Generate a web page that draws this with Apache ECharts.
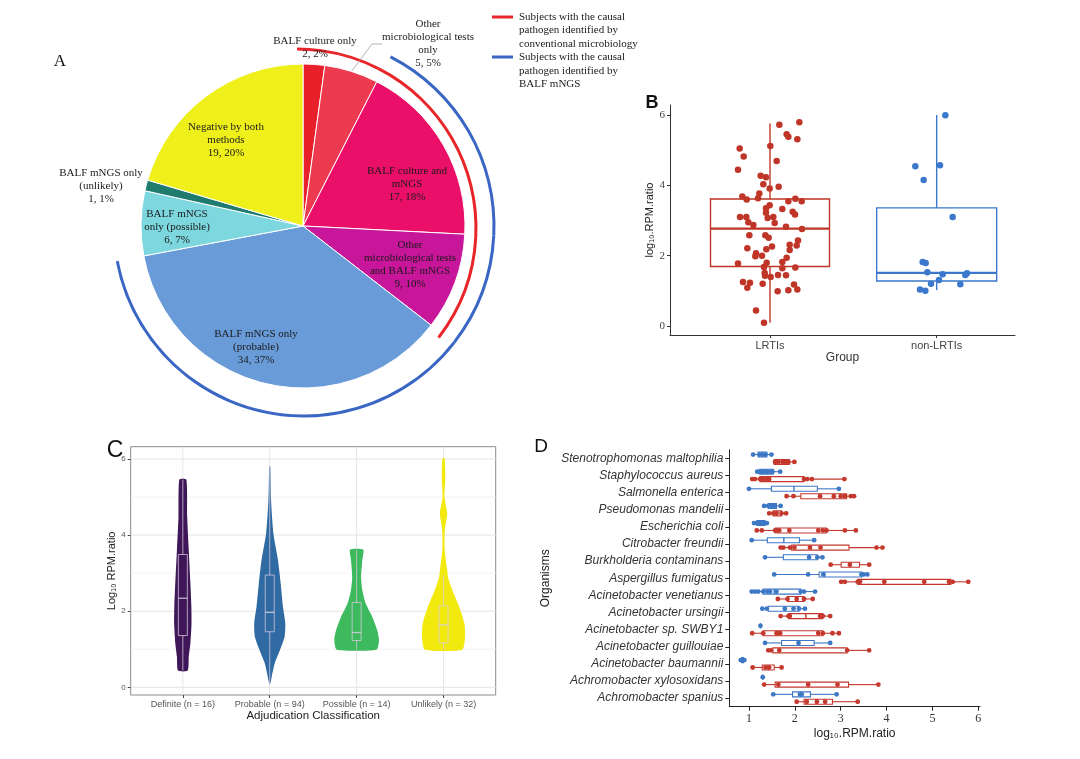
<!DOCTYPE html>
<html><head><meta charset="utf-8">
<script src="https://cdn.jsdelivr.net/npm/echarts@6/dist/echarts.min.js"></script>
<style>html,body{margin:0;padding:0;background:#fff}#c{width:1080px;height:759px}</style>
</head><body><div id="c"></div>
<script>
// ===== Panel A data =====
const pieNames = ['BALF culture only','Other microbiological tests only','BALF culture and mNGS','Other microbiological tests and BALF mNGS','BALF mNGS only (probable)','BALF mNGS only (possible)','BALF mNGS only (unlikely)','Negative by both methods'];
const pieLabelText = ['BALF culture only','Other\nmicrobiological tests\nonly','BALF culture and\nmNGS','Other\nmicrobiological tests\nand BALF mNGS','BALF mNGS only\n(probable)','BALF mNGS\nonly (possible)','BALF mNGS only\n(unlikely)','Negative by both\nmethods'];
const pieValues = [2,5,17,9,34,6,1,19];
const conventionalIdentified = [1,1,1,1,0,0,0,0];
const mngsIdentified = [0,0,1,1,1,0,0,0];
const legendTexts = ['Subjects with the causal\npathogen identified by\nconventional microbiology','Subjects with the causal\npathogen identified by\nBALF mNGS'];

// ===== Panel B data =====
const groupCats = ['LRTIs','non-LRTIs'];
const groupBoxes = [[0.09,1.69,2.77,3.61,5.76],[1.02,1.28,1.51,3.36,6.0]];
const lrtiPoints = [[1.176,5.79],[1.056,5.72],[1.10,5.45],[1.11,5.38],[1.164,5.31],[1.002,5.12],[0.818,5.05],[0.842,4.82],[1.04,4.69],[0.808,4.44],[0.944,4.27],[0.976,4.23],[0.96,4.03],[1.052,3.96],[0.998,3.91],[0.834,3.68],[0.86,3.60],[0.936,3.77],[0.928,3.63],[1.11,3.55],[1.152,3.62],[1.19,3.55],[0.998,3.43],[0.976,3.35],[1.074,3.33],[1.136,3.25],[0.976,3.22],[1.15,3.17],[0.82,3.10],[0.858,3.10],[0.986,3.07],[1.02,3.10],[0.87,2.95],[0.90,2.87],[1.028,2.93],[1.096,2.82],[1.192,2.76],[0.876,2.58],[0.972,2.58],[0.992,2.51],[1.168,2.43],[1.118,2.31],[1.16,2.29],[1.012,2.26],[0.864,2.21],[0.978,2.18],[1.118,2.16],[0.916,2.07],[0.912,1.98],[0.952,2.00],[1.10,1.94],[0.98,1.80],[0.808,1.78],[1.074,1.82],[0.964,1.68],[1.074,1.64],[1.152,1.66],[0.968,1.51],[0.97,1.43],[1.004,1.39],[1.048,1.45],[1.096,1.44],[0.838,1.25],[0.88,1.23],[0.956,1.20],[0.864,1.09],[1.046,0.99],[1.11,1.02],[1.144,1.18],[1.164,1.04],[0.916,0.44],[0.964,0.09]];
const nonLrtiPoints = [[2.052,5.99],[1.872,4.54],[2.02,4.57],[1.922,4.15],[2.096,3.10],[1.916,1.82],[1.934,1.79],[1.944,1.53],[2.036,1.47],[2.172,1.45],[2.182,1.50],[2.014,1.31],[1.966,1.20],[2.142,1.19],[1.90,1.04],[1.932,1.00]];
const bTicks = [0,2,4,6];

// ===== Panel C data =====
const adjCats = ['Definite (n = 16)','Probable (n = 94)','Possible (n = 14)','Unlikely (n = 32)'];
const adjBoxes = [[0.44,1.36,2.34,3.49,5.46],[0.10,1.46,1.97,2.95,5.80],[0.99,1.23,1.44,2.23,3.62],[0.99,1.17,1.64,2.14,2.95]];
// violin density half-widths [y, halfWidth in category units], top to bottom
const violinDefinite = [[5.46,0.040],[4.48,0.050],[3.61,0.068],[2.74,0.087],[2.12,0.098],[1.68,0.100],[1.16,0.087],[0.80,0.068],[0.44,0.056]];
const violinProbable = [[5.80,0.006],[4.92,0.015],[4.04,0.042],[3.34,0.095],[2.73,0.126],[2.12,0.152],[1.68,0.179],[1.33,0.171],[0.98,0.118],[0.63,0.057],[0.28,0.023],[0.10,0.006]];
const violinPossible = [[3.62,0.076],[3.34,0.065],[2.90,0.051],[2.56,0.065],[2.20,0.105],[1.85,0.180],[1.50,0.237],[1.24,0.257],[0.99,0.228]];
const violinUnlikely = [[6.02,0.012],[5.53,0.021],[5.01,0.011],[4.57,0.042],[4.13,0.015],[3.61,0.014],[3.08,0.042],[2.90,0.051],[2.56,0.100],[2.12,0.180],[1.68,0.240],[1.33,0.248],[0.99,0.215]];
const cTicks = [0,2,4,6];
const cGridValues = [0,1,2,3,4,5,6];

// ===== Panel D data (bottom to top) =====
const organisms = ['Achromobacter spanius','Achromobacter xylosoxidans','Acinetobacter baumannii','Acinetobacter guillouiae','Acinetobacter sp. SWBY1','Acinetobacter ursingii','Acinetobacter venetianus','Aspergillus fumigatus','Burkholderia contaminans','Citrobacter freundii','Escherichia coli','Pseudomonas mandelii','Salmonella enterica','Staphylococcus aureus','Stenotrophomonas maltophilia'];
const dBlueBoxes = [[1.53,1.95,2.13,2.34,2.91],[1.30,1.30,1.30,1.30,1.30],[0.82,0.84,0.86,0.88,0.90],[1.35,1.71,2.08,2.42,2.77],[1.25,1.25,1.25,1.25,1.25],[1.29,1.42,1.78,2.09,2.22],[1.06,1.31,1.55,2.13,2.44],[1.55,2.53,2.65,3.46,3.58],[1.35,1.75,2.31,2.49,2.60],[1.06,1.40,1.76,2.10,2.42],[1.11,1.17,1.24,1.35,1.40],[1.33,1.42,1.49,1.60,1.69],[1.00,1.49,1.98,2.49,2.96],[1.18,1.23,1.39,1.53,1.68],[1.09,1.20,1.28,1.39,1.49]];
const dRedBoxes = [[2.04,2.20,2.46,2.82,3.37],[1.33,1.57,2.29,3.17,3.82],[1.08,1.29,1.42,1.55,1.71],[1.42,1.52,1.66,3.14,3.62],[1.07,1.31,1.64,2.61,2.96],[1.69,1.86,2.24,2.61,2.77],[1.63,1.84,2.04,2.20,2.39],[3.01,3.37,3.95,5.40,5.78],[2.78,3.01,3.20,3.41,3.62],[1.69,1.93,2.33,3.18,3.91],[1.17,1.57,1.88,2.69,3.33],[1.44,1.53,1.62,1.71,1.81],[1.82,2.13,2.85,3.13,3.29],[1.07,1.24,1.40,2.20,3.08],[1.55,1.55,1.75,1.88,1.99]];
const dBluePoints = [[1.53,2.11,2.15,2.91],[1.30],[0.82,0.84,0.86,0.88,0.90],[1.35,2.08,2.77],[1.25],[1.29,1.39,1.78,1.97,2.09,2.22],[1.06,1.13,1.20,1.31,1.40,1.46,1.60,2.13,2.20,2.44],[1.55,2.29,2.62,3.45,3.50,3.58],[1.35,2.31,2.49,2.60],[1.06,2.42],[1.11,1.17,1.23,1.28,1.33,1.39],[1.33,1.42,1.49,1.55,1.69],[1.00,2.96],[1.18,1.24,1.28,1.31,1.37,1.41,1.46,1.51,1.68],[1.09,1.23,1.31,1.36,1.49]];
const dRedPoints = [[2.04,2.26,2.48,2.66,3.37],[1.33,1.64,2.29,2.93,3.82],[1.08,1.36,1.44,1.71],[1.42,1.48,1.66,3.14,3.62],[1.07,1.31,1.60,1.68,2.51,2.61,2.82,2.96],[1.69,1.86,1.89,2.55,2.61,2.77],[1.63,1.84,2.04,2.20,2.39],[3.01,3.09,3.37,3.42,3.95,4.82,5.36,5.44,5.78],[2.78,3.20,3.62],[1.69,1.75,1.89,1.99,2.33,2.56,3.78,3.91],[1.17,1.28,1.57,1.62,1.66,1.88,2.51,2.61,2.69,3.09,3.33],[1.44,1.53,1.60,1.71,1.81],[1.82,1.97,2.55,2.85,3.00,3.09,3.22,3.29],[1.07,1.13,1.24,1.31,1.39,1.44,2.20,2.27,2.37,3.08],[1.57,1.64,1.73,1.79,1.86,1.99]];
const dTicks = [1,2,3,4,5,6];

// ===== styles =====
const pieColors = ['#E8202A','#EC3B4E','#EA0F68','#C7169A','#6A9BD9','#7DD7DF','#1F7B6E','#EFEF1C'];
const pieLabelPos = [[315,48],[428,44],[407,184],[410,265],[256,347],[177,227],[101,186],[226,140]];
const RED = '#E8262A', BLUE = '#3A66C4';
const bRed = '#BF3527', bBlue = '#3B78CC';
const violinColors = ['#3F1758','#2F6AA3','#3DB95E','#F2E90F'];
const violinProfiles = [violinDefinite, violinProbable, violinPossible, violinUnlikely];
const SERIF = 'Liberation Serif', SANS = 'Liberation Sans';

// whole-number percentages that add up to 100 (largest remainder)
function roundedPercents(vals) {
  const total = vals.reduce(function (a, b) { return a + b; }, 0);
  const raw = vals.map(function (v) { return v / total * 100; });
  const out = raw.map(Math.floor);
  let left = 100 - out.reduce(function (a, b) { return a + b; }, 0);
  const order = raw.map(function (r, i) { return [r - Math.floor(r), i]; }).sort(function (a, b) { return b[0] - a[0]; });
  for (let k = 0; k < left; k++) out[order[k][1]] += 1;
  return out;
}
const piePercents = roundedPercents(pieValues);

function boxSeries(o) {
  const horizontal = !!o.horizontal;
  return {
    type: 'custom', xAxisIndex: o.axis, yAxisIndex: o.axis, silent: true, clip: false, z: o.z || 3,
    encode: horizontal ? {x: [1,2,3,4,5], y: 0} : {x: 0, y: [1,2,3,4,5]},
    data: o.data,
    renderItem: function (params, api) {
      const pos = api.value(0);
      const pt = function (v) {
        const p = horizontal ? api.coord([v, pos]) : api.coord([pos, v]);
        if (horizontal) p[1] += (o.offset || 0); else p[0] += (o.offset || 0);
        return p;
      };
      const pMin = pt(api.value(1)), pQ1 = pt(api.value(2)), pMed = pt(api.value(3)), pQ3 = pt(api.value(4)), pMax = pt(api.value(5));
      const hw = o.width / 2;
      const st = {stroke: o.color, lineWidth: o.lw, fill: null};
      let ch;
      if (!horizontal) {
        ch = [
          {type: 'line', shape: {x1: pMax[0], y1: pMax[1], x2: pQ3[0], y2: pQ3[1]}, style: st},
          {type: 'line', shape: {x1: pQ1[0], y1: pQ1[1], x2: pMin[0], y2: pMin[1]}, style: st},
          {type: 'rect', shape: {x: pQ3[0] - hw, y: pQ3[1], width: 2 * hw, height: pQ1[1] - pQ3[1]}, style: {stroke: o.color, lineWidth: o.lw, fill: 'rgba(0,0,0,0)'}},
          {type: 'line', shape: {x1: pMed[0] - hw, y1: pMed[1], x2: pMed[0] + hw, y2: pMed[1]}, style: {stroke: o.color, lineWidth: o.medLw}}
        ];
      } else {
        ch = [
          {type: 'line', shape: {x1: pMin[0], y1: pMin[1], x2: pQ1[0], y2: pQ1[1]}, style: st},
          {type: 'line', shape: {x1: pQ3[0], y1: pQ3[1], x2: pMax[0], y2: pMax[1]}, style: st},
          {type: 'rect', shape: {x: pQ1[0], y: pQ1[1] - hw, width: pQ3[0] - pQ1[0], height: 2 * hw}, style: {stroke: o.color, lineWidth: o.lw, fill: 'rgba(255,255,255,0)'}},
          {type: 'line', shape: {x1: pMed[0], y1: pMed[1] - hw, x2: pMed[0], y2: pMed[1] + hw}, style: {stroke: o.color, lineWidth: o.medLw}}
        ];
      }
      return {type: 'group', children: ch};
    }
  };
}

function dPointSeries(pointLists, offset, color) {
  const data = [];
  pointLists.forEach(function (list, idx) { list.forEach(function (x) { data.push([x, idx]); }); });
  return {
    type: 'custom', xAxisIndex: 2, yAxisIndex: 2, silent: true, clip: false, z: 4,
    encode: {x: 0, y: 1}, data: data,
    renderItem: function (params, api) {
      const p = api.coord([api.value(0), api.value(1)]);
      return {type: 'circle', shape: {cx: p[0], cy: p[1] + offset, r: 2.4}, style: {fill: color}};
    }
  };
}

const chart = echarts.init(document.getElementById('c'), null, {renderer: 'canvas'});

const series = [];
// ---- Panel A pie
series.push({
  type: 'pie', center: [303, 226], radius: [0, 162], startAngle: 90, clockwise: true,
  avoidLabelOverlap: false, silent: true, z: 2,
  itemStyle: {borderColor: '#ffffff', borderWidth: 1},
  label: {
    show: true, position: 'inside', fontFamily: SERIF, fontSize: 11, lineHeight: 13, color: '#1a1a1a', align: 'center',
    formatter: function (p) { return pieLabelText[p.dataIndex] + '\n' + p.value + ', ' + piePercents[p.dataIndex] + '%'; }
  },
  labelLine: {show: false},
  labelLayout: function (p) {
    const pos = pieLabelPos[p.dataIndex];
    return {x: pos[0], y: pos[1], align: 'center', verticalAlign: 'middle'};
  },
  data: pieValues.map(function (v, i) {
    const item = {name: pieNames[i], value: v, itemStyle: {color: pieColors[i]}};
    if (i === 1) {
      item.label = {position: 'outside'};
      item.labelLine = {show: true, length: 8, length2: 10, lineStyle: {color: '#a0a0a0', width: 0.8}};
    }
    return item;
  })
});
// arcs
series.push({
  type: 'pie', center: [297, 228], radius: [177.5, 180.5], startAngle: 90, silent: true, z: 1,
  label: {show: false}, labelLine: {show: false}, itemStyle: {borderWidth: 0},
  data: pieValues.map(function (v, i) { return {name: pieNames[i], value: v, itemStyle: {color: conventionalIdentified[i] ? RED : 'rgba(0,0,0,0)'}}; })
});
series.push({
  type: 'pie', center: [304, 226], radius: [188.5, 191.5], startAngle: 90, silent: true, z: 1,
  label: {show: false}, labelLine: {show: false}, itemStyle: {borderWidth: 0},
  data: pieValues.map(function (v, i) { return {name: pieNames[i], value: v, itemStyle: {color: mngsIdentified[i] ? BLUE : 'rgba(0,0,0,0)'}}; })
});

// ---- Panel B
series.push(boxSeries({axis: 0, data: [[1].concat(groupBoxes[0])], width: 119, color: bRed, lw: 1.4, medLw: 2.2}));
series.push(boxSeries({axis: 0, data: [[2].concat(groupBoxes[1])], width: 120, color: bBlue, lw: 1.4, medLw: 2.2}));
series.push({type: 'scatter', xAxisIndex: 0, yAxisIndex: 0, data: lrtiPoints, symbolSize: 6.5, itemStyle: {color: bRed, opacity: 1}, silent: true, z: 4});
series.push({type: 'scatter', xAxisIndex: 0, yAxisIndex: 0, data: nonLrtiPoints, symbolSize: 6.5, itemStyle: {color: bBlue, opacity: 1}, silent: true, z: 4});

// ---- Panel C
series.push({
  type: 'custom', xAxisIndex: 1, yAxisIndex: 1, silent: true, z: 1, clip: false,
  encode: {y: 0}, data: cGridValues.map(function (v) { return [v]; }),
  renderItem: function (params, api) {
    const cs = params.coordSys;
    const y = api.coord([1, api.value(0)])[1];
    const major = api.value(0) % 2 === 0;
    return {type: 'line', shape: {x1: cs.x, y1: y, x2: cs.x + cs.width, y2: y}, style: {stroke: major ? '#e4e4e4' : '#efefef', lineWidth: major ? 1 : 0.8}};
  }
});
series.push({
  type: 'custom', xAxisIndex: 1, yAxisIndex: 1, silent: true, z: 1, clip: false,
  encode: {x: 0}, data: adjCats.map(function (c, i) { return [i + 1]; }),
  renderItem: function (params, api) {
    const cs = params.coordSys;
    const x = api.coord([api.value(0), 0])[0];
    return {type: 'line', shape: {x1: x, y1: cs.y, x2: x, y2: cs.y + cs.height}, style: {stroke: '#e6e6e6', lineWidth: 1}};
  }
});
series.push({
  type: 'custom', xAxisIndex: 1, yAxisIndex: 1, silent: true, z: 2, clip: false,
  encode: {x: 0}, data: adjCats.map(function (c, i) { return [i + 1]; }),
  renderItem: function (params, api) {
    const prof = violinProfiles[params.dataIndex];
    const pos = api.value(0);
    const right = prof.map(function (d) { return api.coord([pos + d[1], d[0]]); });
    const left = prof.slice().reverse().map(function (d) { return api.coord([pos - d[1], d[0]]); });
    return {type: 'polygon', shape: {points: right.concat(left), smooth: 0.2}, style: {fill: violinColors[params.dataIndex]}};
  }
});
series.push(boxSeries({axis: 1, data: adjBoxes.map(function (b, i) { return [i + 1].concat(b); }), width: 9, color: 'rgba(215,205,225,0.85)', lw: 0.9, medLw: 1.3, z: 3}));

// ---- Panel D
series.push(boxSeries({axis: 2, horizontal: true, data: dBlueBoxes.map(function (b, i) { return [i].concat(b); }), offset: -3.8, width: 5, color: '#3D78C5', lw: 1.1, medLw: 1.4}));
series.push(boxSeries({axis: 2, horizontal: true, data: dRedBoxes.map(function (b, i) { return [i].concat(b); }), offset: 3.6, width: 5, color: '#C4382D', lw: 1.1, medLw: 1.4}));
series.push(dPointSeries(dBluePoints, -3.8, '#3D78C5'));
series.push(dPointSeries(dRedPoints, 3.6, '#C4382D'));

const option = {
  animation: false,
  backgroundColor: '#ffffff',
  grid: [
    {left: 670, top: 105, width: 345, height: 230},
    {left: 130.7, top: 446.7, width: 365, height: 248.3, show: true, borderColor: '#8e8a8a', borderWidth: 1, backgroundColor: '#ffffff'},
    {left: 729.3, top: 449.8, width: 250.7, height: 256.9}
  ],
  xAxis: [
    {type: 'value', gridIndex: 0, min: 0.4, max: 2.47,
     axisLine: {show: true, onZero: false, lineStyle: {color: '#333', width: 1}},
     axisTick: {show: true, customValues: [1, 2], length: 3, lineStyle: {color: '#333'}},
     axisLabel: {customValues: [1, 2], formatter: function (v) { return groupCats[Math.round(v) - 1]; }, fontFamily: SANS, fontSize: 11, color: '#444', margin: 5},
     splitLine: {show: false},
     name: 'Group', nameLocation: 'middle', nameGap: 16, nameTextStyle: {fontFamily: SANS, fontSize: 12, color: '#333'}},
    {type: 'value', gridIndex: 1, min: 0.4, max: 4.6,
     axisLine: {show: false, onZero: false},
     axisTick: {show: true, customValues: [1, 2, 3, 4], length: 3, lineStyle: {color: '#444'}},
     axisLabel: {customValues: [1, 2, 3, 4], formatter: function (v) { return adjCats[Math.round(v) - 1]; }, fontFamily: SANS, fontSize: 9, color: '#555', margin: 5},
     splitLine: {show: false},
     name: 'Adjudication Classification', nameLocation: 'middle', nameGap: 15, nameTextStyle: {fontFamily: SANS, fontSize: 11.5, color: '#222'}},
    {type: 'value', gridIndex: 2, min: 0.571, max: 6.036,
     axisLine: {show: true, onZero: false, lineStyle: {color: '#222', width: 1}},
     axisTick: {show: true, customValues: dTicks, length: 4, lineStyle: {color: '#222'}},
     axisLabel: {customValues: dTicks, fontFamily: SERIF, fontSize: 12, color: '#333', margin: 6},
     splitLine: {show: false},
     name: 'log₁₀.RPM.ratio', nameLocation: 'middle', nameGap: 21, nameTextStyle: {fontFamily: SANS, fontSize: 12, color: '#222'}}
  ],
  yAxis: [
    {type: 'value', gridIndex: 0, min: -0.256, max: 6.284,
     axisLine: {show: true, onZero: false, lineStyle: {color: '#333', width: 1}},
     axisTick: {show: true, customValues: bTicks, length: 3, lineStyle: {color: '#333'}},
     axisLabel: {customValues: bTicks, fontFamily: SERIF, fontSize: 11, color: '#444', margin: 5},
     splitLine: {show: false},
     name: 'log₁₀.RPM.ratio', nameLocation: 'middle', nameRotate: 90, nameGap: 15, nameTextStyle: {fontFamily: SANS, fontSize: 11, color: '#222'}},
    {type: 'value', gridIndex: 1, min: -0.202, max: 6.323,
     axisLine: {show: false, onZero: false},
     axisTick: {show: true, customValues: cTicks, length: 3, lineStyle: {color: '#444'}},
     axisLabel: {customValues: cTicks, fontFamily: SANS, fontSize: 8, color: '#555', margin: 5},
     splitLine: {show: false},
     name: 'Log₁₀ RPM.ratio', nameLocation: 'middle', nameRotate: 90, nameGap: 12, nameTextStyle: {fontFamily: SANS, fontSize: 11, color: '#222'}},
    {type: 'category', gridIndex: 2, data: organisms, boundaryGap: true,
     axisLine: {show: true, onZero: false, lineStyle: {color: '#222', width: 1}},
     axisTick: {show: true, alignWithLabel: true, length: 4, lineStyle: {color: '#222'}},
     axisLabel: {interval: 0, fontFamily: SANS, fontStyle: 'italic', fontSize: 12, color: '#333', margin: 6},
     splitLine: {show: false},
     name: 'Organisms', nameLocation: 'middle', nameRotate: 90, nameGap: 178, nameTextStyle: {fontFamily: SANS, fontSize: 12, color: '#222'}}
  ],
  graphic: [
    {type: 'text', x: 60, y: 62, style: {text: 'A', font: '17px "Liberation Serif"', fill: '#111', align: 'center', verticalAlign: 'middle'}},
    {type: 'text', x: 652, y: 103, style: {text: 'B', font: 'bold 18px "Liberation Sans"', fill: '#111', align: 'center', verticalAlign: 'middle'}},
    {type: 'text', x: 115, y: 451, style: {text: 'C', font: '23px "Liberation Sans"', fill: '#111', align: 'center', verticalAlign: 'middle'}},
    {type: 'text', x: 541, y: 447, style: {text: 'D', font: '19px "Liberation Sans"', fill: '#111', align: 'center', verticalAlign: 'middle'}},
    {type: 'line', shape: {x1: 492, y1: 17, x2: 513, y2: 17}, style: {stroke: RED, lineWidth: 3}},
    {type: 'text', x: 519, y: 10, style: {text: legendTexts[0], font: '11px "Liberation Serif"', lineHeight: 13.5, fill: '#1a1a1a', align: 'left', verticalAlign: 'top'}},
    {type: 'line', shape: {x1: 492, y1: 57, x2: 513, y2: 57}, style: {stroke: BLUE, lineWidth: 3}},
    {type: 'text', x: 519, y: 50.5, style: {text: legendTexts[1], font: '11px "Liberation Serif"', lineHeight: 13.5, fill: '#1a1a1a', align: 'left', verticalAlign: 'top'}}
  ],
  series: series
};
chart.setOption(option);
</script>
</body></html>
